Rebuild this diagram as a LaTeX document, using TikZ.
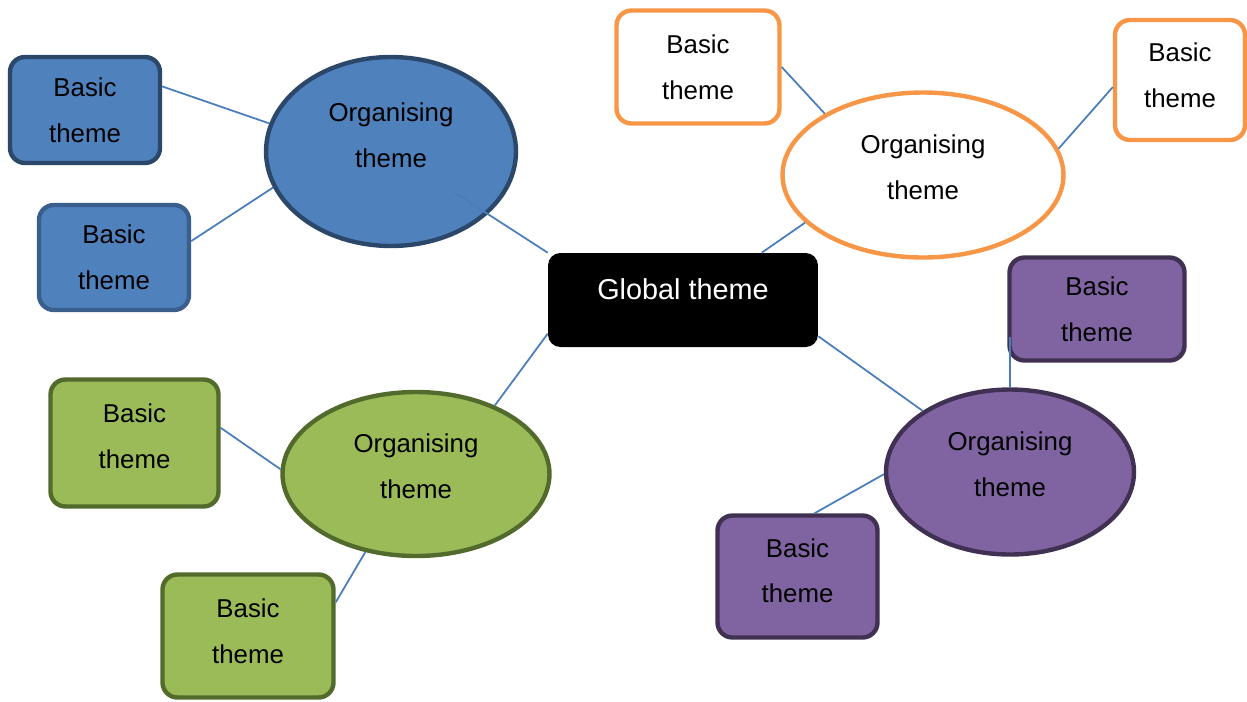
\documentclass[tikz,border=0pt]{standalone}
\usepackage{fontspec}
\setmainfont{Liberation Sans}
\usepackage{xcolor}
\usepackage{tikz}
\usetikzlibrary{shapes.geometric}

\definecolor{blueFill}{HTML}{4F81BD}
\definecolor{blueLineA}{HTML}{2B4769}
\definecolor{blueLineB}{HTML}{3A5F8C}
\definecolor{orangeLine}{HTML}{F79646}
\definecolor{greenFill}{HTML}{9BBB59}
\definecolor{greenLine}{HTML}{526A2B}
\definecolor{purpleFill}{HTML}{8064A2}
\definecolor{purpleLine}{HTML}{403152}
\definecolor{linkBlue}{HTML}{4A7EBB}

\begin{document}
\begin{tikzpicture}[x=0.02cm, y=-0.02cm]
    \tikzset{Basic/.style 2 args={rectangle, rounded corners=8.5pt, fill=#1, draw=#2, line width=2.5pt, align=center, font=\fontsize{14.7pt}{26pt}\selectfont},
             Organising/.style 2 args={ellipse, fill=#1, draw=#2, line width=2.5pt, align=center, text depth=9pt, font=\fontsize{14.7pt}{26pt}\selectfont},
             Global/.style={rectangle, rounded corners=7pt, fill=black, text=white, text depth=12.5pt, font=\fontsize{16.4pt}{20pt}\selectfont},
             Link/.style={draw=linkBlue, line width=1pt}};
    \useasboundingbox (0,0) rectangle (1247,701);
    \node[Global, minimum width=5.4cm, minimum height=1.88cm] (gt) at (683,300) {Global theme};
    % blue
    \node[Organising={blueFill}{blueLineA}, minimum width=5cm, minimum height=3.78cm, text depth=19pt] (orgbl) at (391,151.5) {Organising\\theme};
    \node[Basic={blueFill}{blueLineA}, minimum width=3cm, minimum height=2.12cm] (basbl1) at (85,110) {Basic\\theme};
    \node[Basic={blueFill}{blueLineB}, minimum width=3cm, minimum height=2.1cm] (basbl2) at (114,257.5) {Basic\\theme};
    % orange
    \node[Organising={white}{orangeLine}, minimum width=5.62cm, minimum height=3.3cm] (orgor) at (923,175) {Organising\\theme};
    \node[Basic={white}{orangeLine}, minimum width=3.26cm, minimum height=2.26cm] (basor1) at (698,67) {Basic\\theme};
    \node[Basic={white}{orangeLine}, minimum width=2.6cm, minimum height=2.4cm, text depth=5.7pt] (basor2) at (1180,80) {Basic\\theme};
    % green
    \node[Organising={greenFill}{greenLine}, minimum width=5.34cm, minimum height=3.28cm] (orggr) at (416,474) {Organising\\theme};
    \node[Basic={greenFill}{greenLine}, minimum width=3.36cm, minimum height=2.54cm, text depth=8pt] (basgr1) at (134.5,443) {Basic\\theme};
    \node[Basic={greenFill}{greenLine}, minimum width=3.42cm, minimum height=2.46cm, text depth=5.7pt] (basgr2) at (248,636) {Basic\\theme};
    % purple
    \node[Organising={purpleFill}{purpleLine}, minimum width=4.96cm, minimum height=3.3cm] (orgpu) at (1010,472) {Organising\\theme};
    \node[Basic={purpleFill}{purpleLine}, minimum width=3.5cm, minimum height=2.06cm] (baspu1) at (1097,309) {Basic\\theme};
    \node[Basic={purpleFill}{purpleLine}, minimum width=3.2cm, minimum height=2.44cm, text depth=6.8pt] (baspu2) at (797.5,576.5) {Basic\\theme};

    \draw[Link, shorten >=-0.8cm] (gt.north west) -- (orgbl);
    \draw[Link] (basbl1.17) -- (orgbl.167);
    \draw[Link] (basbl2.12) -- (orgbl.197);
    \draw[Link] (gt.31) -- (orgor.202);
    \draw[Link] (basor1.east) -- (orgor.148);
    \draw[Link] (orgor.11) -- (basor2.186);
    \draw[Link] (gt.194) -- (orggr.41);
    \draw[Link] (basgr1.10) -- (orggr.178);
    \draw[Link] (basgr2.21) -- (orggr.237);
    \draw[Link] (gt.345) -- (orgpu.145);
    \draw[Link, shorten >=-0.51cm] (orgpu.north) -- (orgpu.north |- baspu1.south);
    \draw[Link] (orgpu.181) -- (baspu2.75);
\end{tikzpicture}
\end{document}
